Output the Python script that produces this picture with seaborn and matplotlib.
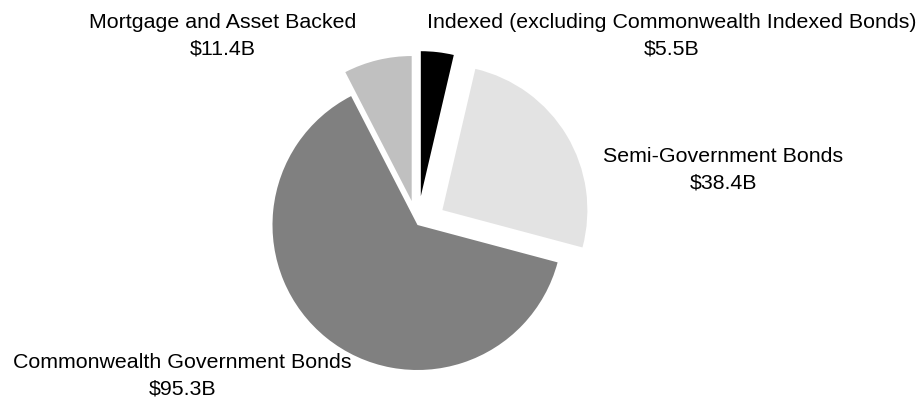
import matplotlib
matplotlib.use("Agg")
import matplotlib.pyplot as plt
import seaborn as sns

# Data
categories = ["Indexed (excluding Commonwealth Indexed Bonds)",
              "Semi-Government Bonds",
              "Commonwealth Government Bonds",
              "Mortgage and Asset Backed"]
values = [5.5, 38.4, 95.3, 11.4]
value_labels = ["$5.5B", "$38.4B", "$95.3B", "$11.4B"]
colors = ["#000000", "#e3e3e3", "#808080", "#c0c0c0"]
explode_frac = [0.2, 0.2, 0.0, 0.17]

sns.set_theme(style="white")
plt.rcParams["font.family"] = ["Liberation Sans", "DejaVu Sans"]

W, H = 922, 399
fig = plt.figure(figsize=(W / 100, H / 100), dpi=100)
ax = fig.add_axes([0, 0, 1, 1])

cx, cy, r = 417.5, H - 225, 145
ax.pie(values, colors=colors, explode=[e * r for e in explode_frac],
       startangle=90, counterclock=False, center=(cx, cy), radius=r,
       wedgeprops=dict(linewidth=0), frame=True)
ax.set_xlim(0, W)
ax.set_ylim(0, H)
ax.set_aspect("equal")
ax.axis("off")

# label positions (center x, baseline y of first line, in screen px)
label_pos = [(671.5, 28.3), (723.5, 161.7), (182.5, 368.3), (222.5, 28.3)]
fs = 15.4
gap = 26.3
for name, val, (x, yb) in zip(categories, value_labels, label_pos):
    ax.text(x, H - yb, name, ha="center", va="baseline", fontsize=fs, color="#000000")
    ax.text(x, H - yb - gap, val, ha="center", va="baseline", fontsize=fs, color="#000000")

fig.savefig("out.png", dpi=100, facecolor="white")
